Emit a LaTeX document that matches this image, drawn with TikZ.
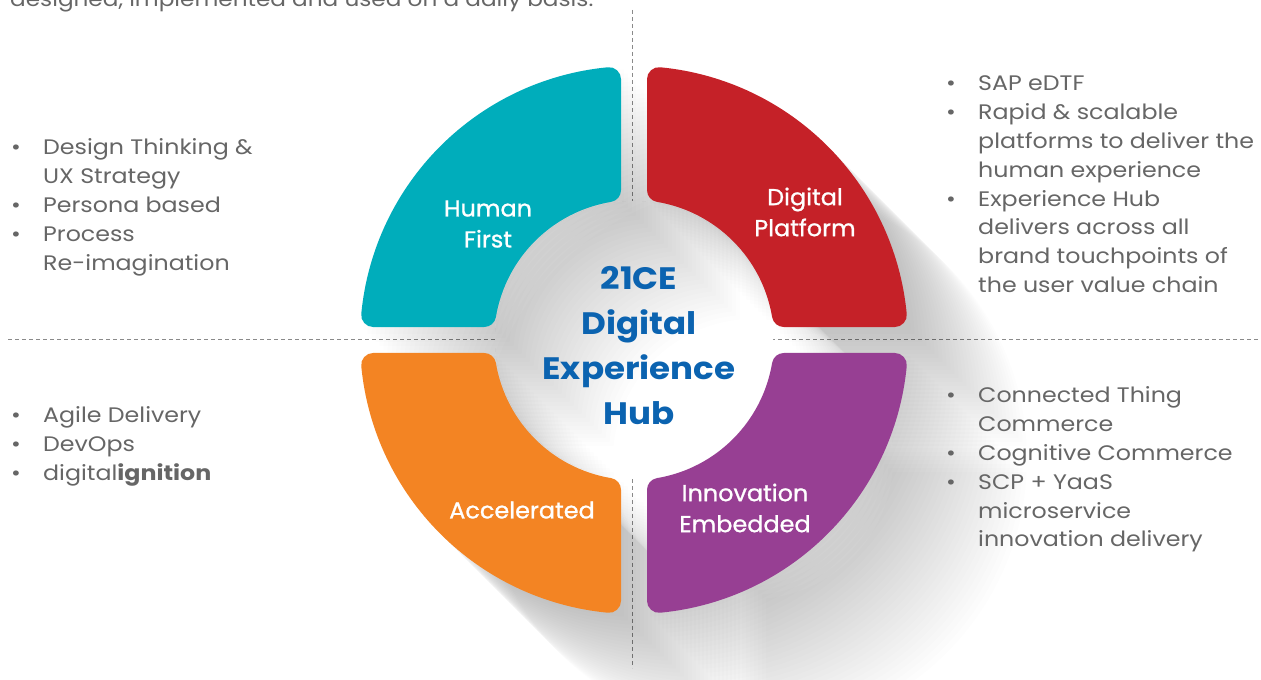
\documentclass[tikz,border=0pt]{standalone}
\usepackage{fontspec}
\setmainfont{Poppins}
\newfontfamily\listfont{Poppins}[FakeStretch=1.13]
\newfontfamily\hubfont{Poppins}[FakeStretch=1.1]
\newfontfamily\labelfont{Poppins}[FakeStretch=1.04, FakeBold=1]
\usepackage{tikz}
\usetikzlibrary{calc, positioning}
\definecolor{hfteal}{HTML}{00ADBB}
\definecolor{dpred}{HTML}{C52128}
\definecolor{acorange}{HTML}{F38423}
\definecolor{inpurple}{HTML}{973F93}
\definecolor{hubblue}{HTML}{0B63B0}
\definecolor{listgray}{HTML}{666666}
\definecolor{linegray}{HTML}{8A8A8A}
% ring geometry (in px): inset radii for the round-join trick
\def\Ro{262}\def\Ri{152}\def\gap{25}
\def\quarter{({90+asin(\gap/\Ro)}:\Ro) arc[start angle={90+asin(\gap/\Ro)}, end angle={180-asin(\gap/\Ro)}, radius=\Ro] -- ({180-asin(\gap/\Ri)}:\Ri) arc[start angle={180-asin(\gap/\Ri)}, end angle={90+asin(\gap/\Ri)}, radius=\Ri] -- cycle}
\def\quartersharp{({90+asin(13/274)}:274) arc[start angle={90+asin(13/274)}, end angle={180-asin(13/274)}, radius=274] -- ({180-asin(13/140)}:140) arc[start angle={180-asin(13/140)}, end angle={90+asin(13/140)}, radius=140] -- cycle}
\tikzstyle{segment} = [line width=24pt, line join=round]
\tikzstyle{shadowpiece} = [fill=black, opacity=0.006]
\tikzstyle{divider} = [linegray, line width=1pt, dash pattern=on 4pt off 3pt]
\tikzstyle{seglabel} = [text=white, align=center, font=\labelfont\fontsize{23}{31}\selectfont]
\tikzstyle{hubtext} = [text=hubblue, align=center, font=\hubfont\bfseries\fontsize{31}{45}\selectfont]
\tikzstyle{bullets} = [text=listgray, anchor=base west, inner sep=0pt, font=\listfont\fontsize{21}{28.9}\selectfont]
\newcommand{\bul}{\textbullet}

\begin{document}
\begin{tikzpicture}[x=1pt, y=1pt]
	\useasboundingbox (0,0) rectangle (1261,680);
	\coordinate (C) at (634,340);
	\coordinate (Vtop) at (632.5,670);
	\coordinate (Vbot) at (632.5,12);
	\coordinate (Hleft) at (8,340);
	\coordinate (Hright) at (1258,340);
	% dividers and the white hub
	\draw [divider] (Vtop) -- (Vbot);
	\draw [divider] (Hleft) -- (Hright);
	\fill [white] (C) circle (139);
	% long shadows
	\foreach \rot in {0,-90,180,90}
		\foreach \k in {3,7,...,119} {
			\begin{scope}[shift={(634+\k,340-\k)}, rotate=\rot]
				\fill [shadowpiece] \quartersharp;
			\end{scope}
		}
	% the four quarters
	\foreach \rot/\col in {0/hfteal, -90/dpred, 180/inpurple, 90/acorange} {
		\begin{scope}[shift={(C)}, rotate=\rot]
			\filldraw [segment, fill=\col, draw=\col] \quarter;
		\end{scope}
	}
	\node (lead) [bullets, font=\listfont\fontsize{20.5}{29}\selectfont] at (10,673) {designed, implemented and used on a daily basis.};
	\node (humanfirst) [seglabel] at (488,456) {Human\\First};
	\node (digitalplatform) [seglabel] at (805,468) {Digital\\Platform};
	\node (accelerated) [seglabel] at (522,170) {Accelerated};
	\node (innovation) [seglabel] at (745,172) {Innovation\\Embedded};
	\node (hub) [hubtext] at (639,334.5) {21CE\\Digital\\Experience\\Hub};
	\node (humanlist) [bullets] at (11,525.5) {\begin{tabular}[t]{@{}p{32pt}@{}l@{}}
		\bul & Design Thinking \& \\
		     & UX Strategy \\
		\bul & Persona based \\
		\bul & Process \\
		     & Re-imagination
	\end{tabular}};
	\node (platformlist) [bullets] at (946,589.5) {\begin{tabular}[t]{@{}p{32pt}@{}l@{}}
		\bul & SAP eDTF \\
		\bul & Rapid \& scalable \\
		     & platforms to deliver the \\
		     & human experience \\
		\bul & Experience Hub \\
		     & delivers across all \\
		     & brand touchpoints of \\
		     & the user value chain
	\end{tabular}};
	\node (agilelist) [bullets] at (11,257.5) {\begin{tabular}[t]{@{}p{32pt}@{}l@{}}
		\bul & Agile Delivery \\
		\bul & DevOps \\
		\bul & digital\textbf{ignition}
	\end{tabular}};
	\node (commercelist) [bullets] at (946,277.5) {\begin{tabular}[t]{@{}p{32pt}@{}l@{}}
		\bul & Connected Thing \\
		     & Commerce \\
		\bul & Cognitive Commerce \\
		\bul & SCP + YaaS \\
		     & microservice \\
		     & innovation delivery
	\end{tabular}};
\end{tikzpicture}
\end{document}
